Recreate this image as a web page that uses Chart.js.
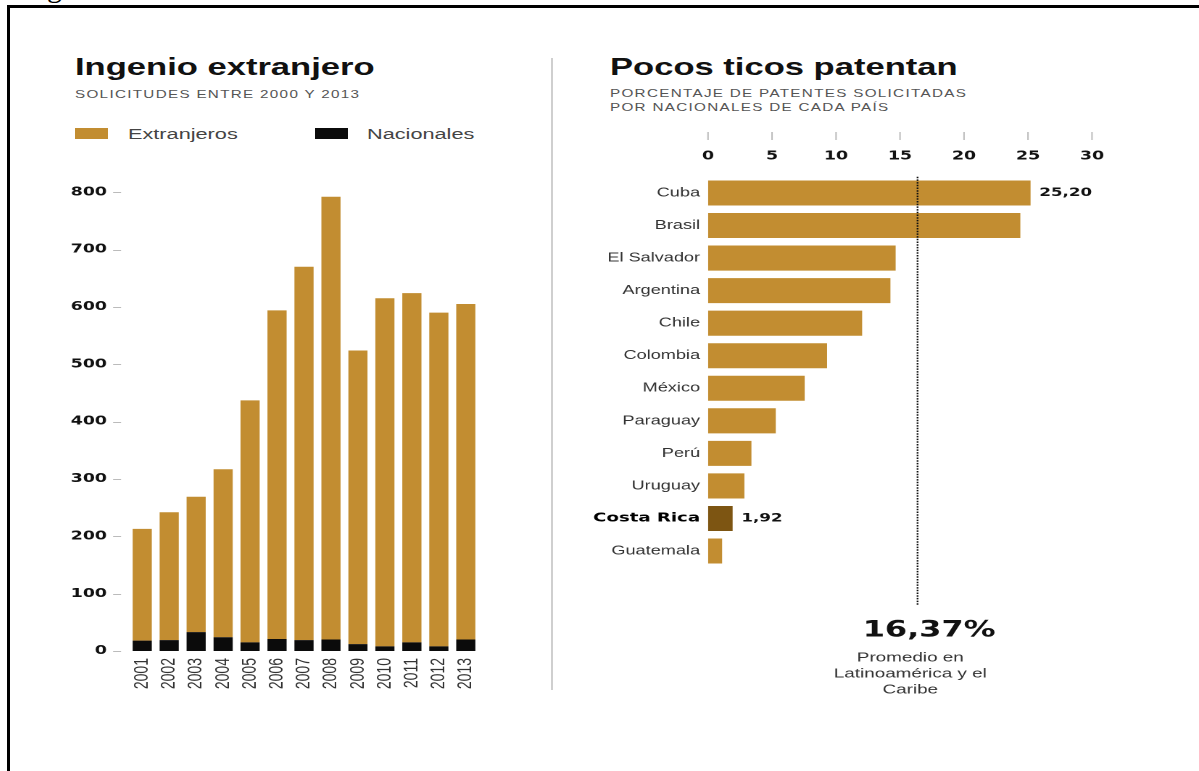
<!DOCTYPE html>
<html lang="es">
<head>
<meta charset="utf-8">
<title>Patentes</title>
<script src="https://cdn.jsdelivr.net/npm/chart.js@4/dist/chart.umd.min.js"></script>
<style>
  html, body { margin: 0; width: 1199px; height: 771px; overflow: hidden; background: #fff; font-family: 'Liberation Sans', Arial, sans-serif; }
  #marco { position: absolute; left: 7px; top: 5px; width: 1300px; height: 900px; border-top: 3px solid #000; border-left: 3px solid #000; }
  .g { position: absolute; left: 47px; top: -28px; font: 30px/30px 'Liberation Serif', serif; color: #000; }
  .txt { position: absolute; white-space: nowrap; transform-origin: 0 0; }
  .titulo { font-size: 24px; line-height: 24px; font-weight: bold; color: #111; transform: scaleX(1.44); }
  .sub { font-size: 10.5px; line-height: 14px; letter-spacing: 0.9px; color: #555; transform: scaleX(1.45); }
  .ley { font-size: 14px; line-height: 14px; color: #444; transform: scaleX(1.55); }
  .caja { position: absolute; top: 128px; width: 33px; height: 11px; }
  #divisor { position: absolute; left: 551px; top: 58px; width: 2px; height: 632px; background: #cfcfcf; }
  canvas { position: absolute; transform: scaleX(1.45); transform-origin: 0 0; }
  #izq { left: 60px; top: 170px; width: 304px; height: 540px; }
  #der { left: 590px; top: 120px; width: 372px; height: 590px; }
</style>
</head>
<body>
<div id="marco"></div>
<div class="g">g</div>

<div class="txt titulo" style="left:75px;top:55px">Ingenio extranjero</div>
<div class="txt sub" style="left:75px;top:87px">SOLICITUDES ENTRE 2000 Y 2013</div>
<div class="caja" style="left:75px;background:#c28d31"></div>
<div class="txt ley" style="left:128px;top:127px">Extranjeros</div>
<div class="caja" style="left:315px;background:#0b0b0b"></div>
<div class="txt ley" style="left:367px;top:127px">Nacionales</div>

<div id="divisor"></div>

<div class="txt titulo" style="left:610px;top:55px">Pocos ticos patentan</div>
<div class="txt sub" style="left:610px;top:86px">PORCENTAJE DE PATENTES SOLICITADAS<br>POR NACIONALES DE CADA PAÍS</div>

<canvas id="izq" width="304" height="540"></canvas>
<canvas id="der" width="372" height="590"></canvas>

<script>
const ORO = '#c28d31';
const CAFE = '#7d5512';
const NEGRO = '#0b0b0b';

// Solicitudes por año
const anios = ['2001', '2002', '2003', '2004', '2005', '2006', '2007', '2008', '2009', '2010', '2011', '2012', '2013'];
const extranjeros = [195, 223, 236, 293, 422, 573, 651, 772, 512, 607, 609, 582, 585];
const nacionales = [18, 19, 33, 24, 15, 21, 19, 20, 12, 8, 15, 8, 20];

// Porcentaje de patentes de nacionales
const paises = ['Cuba', 'Brasil', 'El Salvador', 'Argentina', 'Chile', 'Colombia', 'México', 'Paraguay', 'Perú', 'Uruguay', 'Costa Rica', 'Guatemala'];
const porcentajes = [25.20, 24.4, 14.66, 14.25, 12.04, 9.3, 7.55, 5.29, 3.39, 2.84, 1.92, 1.10];
const destacado = 'Costa Rica';
const conEtiqueta = ['Cuba', 'Costa Rica'];
const promedio = 16.37;
const notaPromedio = ['Promedio en', 'Latinoamérica y el', 'Caribe'];

const coma = (v, d) => v.toFixed(d).replace('.', ',');
const sinRejilla = { display: false, drawTicks: false };

// marcas grises junto a los valores del eje y
const marcasY = {
  id: 'marcasY',
  afterDraw(chart) {
    const { ctx, scales: { y } } = chart;
    ctx.save();
    ctx.strokeStyle = '#bbb';
    ctx.lineWidth = 1;
    y.ticks.forEach(t => {
      const py = Math.round(y.getPixelForValue(t.value)) + 0.5;
      ctx.beginPath(); ctx.moveTo(36.6, py); ctx.lineTo(42.1, py); ctx.stroke();
    });
    ctx.restore();
  }
};

// marcas arriba, linea del promedio y valores destacados
const extras = {
  id: 'extras',
  afterDraw(chart) {
    const { ctx, scales: { x } } = chart;
    ctx.save();
    ctx.strokeStyle = '#bbb';
    ctx.lineWidth = 1;
    x.ticks.forEach(t => {
      const px = x.getPixelForValue(t.value);
      ctx.beginPath(); ctx.moveTo(px, 12); ctx.lineTo(px, 20); ctx.stroke();
    });

    const xp = x.getPixelForValue(promedio);
    ctx.strokeStyle = '#111';
    ctx.lineWidth = 1.2;
    ctx.setLineDash([1.5, 1.2]);
    ctx.beginPath(); ctx.moveTo(xp, chart.chartArea.top); ctx.lineTo(xp, 485); ctx.stroke();
    ctx.setLineDash([]);

    ctx.fillStyle = '#111';
    ctx.textAlign = 'center';
    ctx.textBaseline = 'middle';
    ctx.font = 'bold 22px "DejaVu Sans"';
    ctx.fillText(coma(promedio, 2) + '%', xp + 8, 511);
    ctx.fillStyle = '#333';
    ctx.font = '13px "Liberation Sans"';
    notaPromedio.forEach((l, i) => ctx.fillText(l, xp - 5, 538 + i * 16));

    const meta = chart.getDatasetMeta(0);
    ctx.fillStyle = '#111';
    ctx.textAlign = 'left';
    ctx.font = 'bold 11.5px "DejaVu Sans"';
    paises.forEach((p, i) => {
      if (!conEtiqueta.includes(p)) return;
      const bar = meta.data[i];
      ctx.fillText(coma(porcentajes[i], 2), bar.x + 6, bar.y);
    });
    ctx.restore();
  }
};

new Chart(document.getElementById('izq'), {
  type: 'bar',
  data: {
    labels: anios,
    datasets: [
      { label: 'Nacionales', data: nacionales, backgroundColor: NEGRO, barPercentage: 0.71, categoryPercentage: 1 },
      { label: 'Extranjeros', data: extranjeros, backgroundColor: ORO, barPercentage: 0.71, categoryPercentage: 1 },
    ]
  },
  options: {
    responsive: false, animation: false, devicePixelRatio: 2,
    layout: { padding: { top: 16, right: 9.2, left: 0, bottom: 0 } },
    plugins: { legend: { display: false }, tooltip: { enabled: false } },
    scales: {
      x: {
        stacked: true, grid: sinRejilla, border: { display: false },
        ticks: { autoSkip: false, minRotation: 90, maxRotation: 90, padding: 7, color: '#333', font: { family: 'Liberation Sans', size: 14 } },
        afterFit: s => { s.height = 59; }
      },
      y: {
        stacked: true, min: 0, max: 800, grid: sinRejilla, border: { display: false },
        ticks: { stepSize: 100, padding: 15, color: '#111', font: { family: 'DejaVu Sans', size: 12, weight: 'bold' } },
        afterFit: s => { s.width = 47.4; }
      }
    }
  },
  plugins: [marcasY]
});

new Chart(document.getElementById('der'), {
  type: 'bar',
  data: {
    labels: paises,
    datasets: [{
      data: porcentajes,
      backgroundColor: paises.map(p => p === destacado ? CAFE : ORO),
      barPercentage: 0.77, categoryPercentage: 1
    }]
  },
  options: {
    indexAxis: 'y', responsive: false, animation: false, devicePixelRatio: 2,
    layout: { padding: { top: 0, right: 25.8, bottom: 142.7, left: 0 } },
    plugins: { legend: { display: false }, tooltip: { enabled: false } },
    scales: {
      x: {
        position: 'top', min: 0, max: 30, grid: sinRejilla, border: { display: false },
        ticks: { stepSize: 5, padding: 13, color: '#111', font: { family: 'DejaVu Sans', size: 12, weight: 'bold' } },
        afterFit: s => { s.height = 56.7; }
      },
      y: {
        grid: sinRejilla, border: { display: false },
        ticks: {
          autoSkip: false, padding: 5.5,
          color: c => paises[c.index] === destacado ? '#000' : '#333',
          font: c => paises[c.index] === destacado
            ? { family: 'DejaVu Sans', size: 12.5, weight: 'bold' }
            : { family: 'Liberation Sans', size: 12.5 }
        },
        afterFit: s => { s.width = 81.4; }
      }
    }
  },
  plugins: [extras]
});
</script>
</body>
</html>
